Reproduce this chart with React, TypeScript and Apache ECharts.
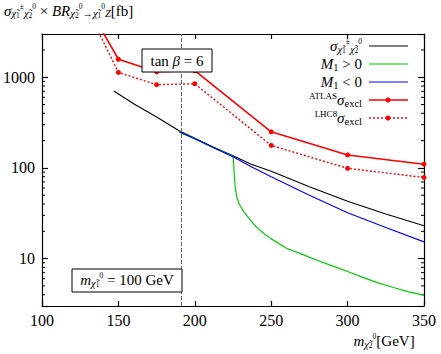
import React, { useEffect, useRef } from 'react';
import * as echarts from 'echarts';

const FONT = "'Liberation Serif', 'Times New Roman', serif";

// axis ticks
const xTickStep = 50;
const yMajor = [10, 100, 1000];
const yMinor = [4, 5, 6, 7, 8, 9, 20, 30, 40, 50, 60, 70, 80, 90, 200, 300, 400, 500, 600, 700, 800, 900, 2000];

// sigma (chi1+- chi2^0) x BR   [fb]
const sigmaX = [147, 160, 175, 190, 200, 212, 225, 237, 250, 275, 300, 325, 350];
const sigmaY = [705, 510, 365, 255, 212, 170, 136, 110, 92, 62, 43, 31, 23];

// M1 < 0
const negX = [190, 200, 212, 225, 237, 250, 275, 300, 325, 350];
const negY = [250, 210, 168, 133, 103, 80, 50, 32, 22, 15.3];

// M1 > 0
const posX = [190, 200, 212, 225, 225.5, 226, 226.5, 227.5, 229, 232, 236, 240, 245, 250, 260, 270, 280, 290, 300, 310, 320, 330, 340, 350];
const posY = [250, 210, 168, 134, 105, 75, 60, 48, 40, 33, 27, 22.5, 19, 16.5, 13, 11.2, 9.6, 8.3, 7.2, 6.2, 5.4, 4.8, 4.3, 3.95];

// ATLAS sigma_excl
const atlasX = [130, 150, 175, 200, 250, 300, 350];
const atlasY = [6150, 1580, 1150, 1180, 250, 139, 110];

// LHC8 sigma_excl
const lhcX = [130, 150, 175, 200, 250, 300, 350];
const lhcY = [5500, 1130, 828, 848, 177, 99, 78.5];

const dashedX = 191;

const zip = (xs: number[], ys: number[]) => xs.map((x, i) => [x, ys[i]]);
const zipMarked = (xs: number[], ys: number[]) =>
  xs.map((x, i) => (i === 0 ? { value: [x, ys[i]], symbol: 'none' } : [x, ys[i]]));

const richBase = {
  i: { fontFamily: FONT, fontStyle: 'italic', fontSize: 15, lineHeight: 17, verticalAlign: 'middle' },
  r: { fontFamily: FONT, fontSize: 15, lineHeight: 17 },
  s: { fontFamily: FONT, fontStyle: 'italic', fontSize: 10.5, lineHeight: 10, verticalAlign: 'bottom' },
  sr: { fontFamily: FONT, fontSize: 10.5, lineHeight: 10, verticalAlign: 'bottom' },
  ss: { fontFamily: FONT, fontSize: 7.5, lineHeight: 3, verticalAlign: 'bottom' },
  sp: { fontFamily: FONT, fontSize: 7.5, lineHeight: 16, verticalAlign: 'top' },
  up: { fontFamily: FONT, fontSize: 9, lineHeight: 9, verticalAlign: 'top' },
};

export default function App() {
  const ref = useRef<HTMLDivElement>(null);
  useEffect(() => {
    const chart = echarts.init(ref.current!, null, { renderer: 'svg' });
    const axisLine = { show: true, onZero: false, lineStyle: { color: '#000', width: 1.2 } };
    const yLabel = (v: number) => {
      const r = Math.round(v);
      return yMajor.includes(r) && Math.abs(v - r) < 1e-6 ? String(r) : '';
    };
    const legendRows = [
      { text: '{i|σ}{s|χ̃}{ss|1}{sp|±}{s|χ̃}{ss|2}{sp|0}', y: 46, color: '#000', dotted: false, mark: false },
      { text: '{i|M}{sr|1}{r| > 0}', y: 64, color: '#00cc00', dotted: false, mark: false },
      { text: '{i|M}{sr|1}{r| < 0}', y: 82, color: '#0000ff', dotted: false, mark: false },
      { text: '{up|ATLAS}{i|σ}{sr|excl}', y: 100, color: '#ff0000', dotted: false, mark: true },
      { text: '{up|LHC8}{i|σ}{sr|excl}', y: 118, color: '#ff0000', dotted: true, mark: true },
    ];
    const legendGraphics: any[] = [];
    legendRows.forEach((row) => {
      legendGraphics.push({
        type: 'text', x: 362, y: row.y, z: 100,
        style: { text: row.text, rich: richBase, align: 'right', verticalAlign: 'middle', fill: '#000' },
      });
      legendGraphics.push({
        type: 'line', z: 100,
        shape: { x1: 369, y1: row.y, x2: 408, y2: row.y },
        style: {
          stroke: row.color, lineWidth: row.mark ? 1.6 : 1.2,
          lineDash: row.dotted ? [2, 2] : null,
        },
      });
      if (row.mark) {
        legendGraphics.push({
          type: 'circle', z: 101, shape: { cx: 388, cy: row.y, r: 2.5 }, style: { fill: row.color },
        });
      }
    });

    const option: any = {
      animation: false,
      grid: { left: 41, right: 17, top: 34, bottom: 48, containLabel: false },
      xAxis: [0, 1].map((k) => ({
        type: 'value', min: 100, max: 350, interval: xTickStep,
        position: k === 0 ? 'bottom' : 'top',
        axisLine,
        axisTick: { show: true, inside: true, length: 5, lineStyle: { color: '#000', width: 1.2 } },
        splitLine: { show: false },
        axisLabel: { show: k === 0, color: '#000', fontFamily: FONT, fontSize: 16, margin: 6 },
      })),
      yAxis: [0, 1].map((k) => ({
        type: 'log', logBase: 10, min: 3, max: 3000,
        position: k === 0 ? 'left' : 'right',
        axisLine,
        axisTick: { show: true, inside: true, length: 6, lineStyle: { color: '#000', width: 1.2 } },
        splitLine: { show: false },
        minorTick: { show: false },
        axisLabel: { show: k === 0, color: '#000', fontFamily: FONT, fontSize: 16, margin: 7, formatter: yLabel },
      })),
      series: [
        {
          type: 'custom', xAxisIndex: 0, yAxisIndex: 0, silent: true, z: 1,
          data: yMinor.map((v) => [v]),
          renderItem: (params: any, api: any) => {
            const v = api.value(0);
            const pl = api.coord([100, v]);
            const pr = api.coord([350, v]);
            return {
              type: 'group',
              children: [
                { type: 'line', shape: { x1: pl[0], y1: pl[1], x2: pl[0] + 3, y2: pl[1] }, style: { stroke: '#000', lineWidth: 1 } },
                { type: 'line', shape: { x1: pr[0], y1: pr[1], x2: pr[0] - 3, y2: pr[1] }, style: { stroke: '#000', lineWidth: 1 } },
              ],
            };
          },
        },
        {
          name: 'sigma', type: 'line', data: zip(sigmaX, sigmaY), symbol: 'none',
          lineStyle: { color: '#000', width: 1.1 }, z: 3,
          markLine: {
            silent: true, symbol: 'none', label: { show: false },
            lineStyle: { color: '#666', type: [4, 2], width: 1 },
            data: [{ xAxis: dashedX }],
          },
        },
        {
          name: 'M1>0', type: 'line', data: zip(posX, posY), symbol: 'none',
          lineStyle: { color: '#00cc00', width: 1.2 }, z: 4,
        },
        {
          name: 'M1<0', type: 'line', data: zip(negX, negY), symbol: 'none',
          lineStyle: { color: '#0000ff', width: 1.2 }, z: 5,
        },
        {
          name: 'ATLAS', type: 'line', data: zipMarked(atlasX, atlasY), symbol: 'circle', symbolSize: 5,
          itemStyle: { color: '#ff0000' }, lineStyle: { color: '#ff0000', width: 1.6 }, z: 6, clip: true,
        },
        {
          name: 'LHC8', type: 'line', data: zipMarked(lhcX, lhcY), symbol: 'circle', symbolSize: 5,
          itemStyle: { color: '#ff0000' }, lineStyle: { color: '#ff0000', width: 1.4, type: [2, 2] }, z: 6, clip: true,
        },
      ],
      graphic: [
        {
          type: 'text', x: 4, y: 2, z: 100,
          style: {
            text: '{i|σ}{s|χ̃}{ss|1}{sp|±}{s|χ̃}{ss|2}{sp|0}{r| × }{i|BR}{s|χ̃}{ss|2}{sp|0}{sr|→}{s|χ̃}{ss|1}{sp|0}{s|Z}{r|[fb]}',
            rich: richBase, fill: '#000',
          },
        },
        {
          type: 'text', x: 384, y: 341, z: 100,
          style: { text: '{i|m}{s|χ̃}{ss|2}{sp|0}{r|[GeV]}', rich: richBase, align: 'center', verticalAlign: 'middle', fill: '#000' },
        },
        { type: 'rect', z: 100, shape: { x: 142, y: 49, width: 70, height: 23 }, style: { fill: '#fff', stroke: '#000', lineWidth: 1 } },
        {
          type: 'text', x: 177, y: 61, z: 101,
          style: { text: '{r|tan }{i|β}{r| = 6}', rich: richBase, align: 'center', verticalAlign: 'middle', fill: '#000' },
        },
        { type: 'rect', z: 100, shape: { x: 72, y: 269, width: 110, height: 23 }, style: { fill: '#fff', stroke: '#000', lineWidth: 1 } },
        {
          type: 'text', x: 127, y: 280, z: 101,
          style: { text: '{i|m}{s|χ̃}{ss|1}{sp|0}{r| = 100 GeV}', rich: richBase, align: 'center', verticalAlign: 'middle', fill: '#000' },
        },
        ...legendGraphics,
      ],
    };
    chart.setOption(option);
    return () => chart.dispose();
  }, []);
  return <div ref={ref} style={{ position: 'absolute', left: 0, top: 0, width: 441, height: 354 }} />;
}
